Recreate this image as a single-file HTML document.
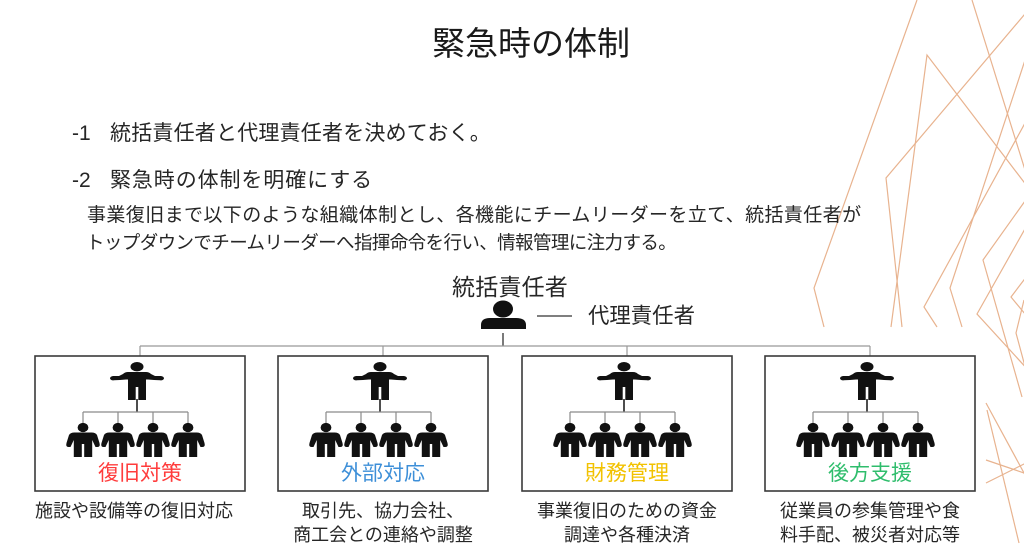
<!DOCTYPE html>
<html lang="ja">
<head>
<meta charset="utf-8">
<style>
  html,body{margin:0;padding:0;background:#fff;}
  body{width:1024px;height:554px;position:relative;overflow:hidden;
       font-family:"Liberation Sans","Noto Sans CJK JP",sans-serif;color:#262626;}
  .t{position:absolute;white-space:nowrap;}
  .c{position:absolute;white-space:nowrap;text-align:center;width:240px;}
  svg{position:absolute;left:0;top:0;}
</style>
</head>
<body>
<svg width="1024" height="554" viewBox="0 0 1024 554">
  <defs>
    <g id="leader">
      <ellipse cx="0" cy="4.7" rx="6.5" ry="4.7" fill="#111"/>
      <path fill="#111" d="M-9,10 L9,10 Q12,10 14,12 L18,14 L24,14 Q27,14.5 27,16.5 Q26,18.8 23,18.3 L17,18 L11,17.5 L9,17.5 L9,38 L1.3,38 L1.3,25 L-1.3,25 L-1.3,38 L-9,38 L-9,17.5 L-11,17.5 L-17,18 L-23,18.3 Q-26,18.8 -27,16.5 Q-27,14.5 -24,14 L-18,14 L-14,12 Q-12,10 -9,10 Z"/>
    </g>
    <g id="member">
      <ellipse cx="0" cy="4.5" rx="5.4" ry="4.6" fill="#111"/>
      <path fill="#111" d="M-8.5,9.5 L8.5,9.5 Q12.5,9.5 14,12 L16.5,20 Q17.5,24 14.5,24 L12.5,24 L9.2,17 L9.2,34 L1.2,34 L1.2,21 L-1.2,21 L-1.2,34 L-9.2,34 L-9.2,17 L-12.5,24 L-14.5,24 Q-17.5,24 -16.5,20 L-14,12 Q-12.5,9.5 -8.5,9.5 Z"/>
    </g>
    <g id="team">
      <rect x="0" y="356" width="210" height="135" fill="#fff" stroke="#3a3a3a" stroke-width="1.6"/>
      <use href="#leader" x="102" y="362"/>
      <line x1="102" y1="399" x2="102" y2="412" stroke="#222" stroke-width="1.6"/>
      <line x1="48" y1="412" x2="153" y2="412" stroke="#8a8a8a" stroke-width="1.2"/>
      <line x1="48" y1="412" x2="48" y2="424" stroke="#8a8a8a" stroke-width="1.2"/>
      <line x1="83" y1="412" x2="83" y2="424" stroke="#8a8a8a" stroke-width="1.2"/>
      <line x1="118" y1="412" x2="118" y2="424" stroke="#8a8a8a" stroke-width="1.2"/>
      <line x1="153" y1="412" x2="153" y2="424" stroke="#8a8a8a" stroke-width="1.2"/>
      <use href="#member" x="48" y="423"/>
      <use href="#member" x="83" y="423"/>
      <use href="#member" x="118" y="423"/>
      <use href="#member" x="153" y="423"/>
    </g>
  </defs>

  <!-- decorative lines -->
  <g fill="none" stroke="#e8b38f" stroke-width="1.2" stroke-linejoin="miter">
    <polyline points="917,0 814,288 824,327"/>
    <polyline points="972,0 1030,186"/>
    <polyline points="1030,8 886,178 902,327"/>
    <polyline points="891,327 927,55 1030,190"/>
    <polyline points="1030,45 950,288 962,327"/>
    <polyline points="1030,114 924,307 937,327"/>
    <polyline points="1030,194 983,260 1022,397"/>
    <polyline points="1030,220 977,314 1030,372"/>
    <polyline points="1030,272 1011,297 1030,320"/>
    <polyline points="1030,385 1016,333 1024,300"/>
    <polyline points="986,403 1030,484"/>
    <polyline points="987,410 1019,543"/>
    <polyline points="986,460 1030,475"/>
    <polyline points="986,483 1030,461"/>
  </g>

  <!-- top person icon -->
  <ellipse cx="503" cy="309" rx="10" ry="8.5" fill="#111"/>
  <path fill="#111" d="M481,329 L481,325 Q481,318 490,318 L516,318 Q526,318 526,325 L526,329 Z"/>
  <line x1="537" y1="316" x2="572" y2="316" stroke="#333" stroke-width="1.3"/>
  <line x1="503" y1="333" x2="503" y2="346" stroke="#333" stroke-width="1.3"/>

  <!-- main connector -->
  <line x1="140" y1="346" x2="870" y2="346" stroke="#999" stroke-width="1.2"/>
  <line x1="140" y1="346" x2="140" y2="356" stroke="#999" stroke-width="1.2"/>
  <line x1="383" y1="346" x2="383" y2="356" stroke="#999" stroke-width="1.2"/>
  <line x1="627" y1="346" x2="627" y2="356" stroke="#999" stroke-width="1.2"/>
  <line x1="870" y1="346" x2="870" y2="356" stroke="#999" stroke-width="1.2"/>

  <use href="#team" x="35" y="0"/>
  <use href="#team" x="278" y="0"/>
  <use href="#team" x="522" y="0"/>
  <use href="#team" x="765" y="0"/>
</svg>

<div class="t" style="left:432px;top:27px;font-size:33px;line-height:33px;color:#1a1a1a;">緊急時の体制</div>

<div class="t" style="left:72px;top:123px;font-size:21px;line-height:21px;">-1</div>
<div class="t" style="left:110px;top:123px;font-size:21px;line-height:21px;letter-spacing:0.2px;">統括責任者と代理責任者を決めておく。</div>

<div class="t" style="left:72px;top:170px;font-size:21px;line-height:21px;">-2</div>
<div class="t" style="left:110px;top:170px;font-size:21px;line-height:21px;letter-spacing:0.9px;">緊急時の体制を明確にする</div>

<div class="t" style="left:87px;top:206px;font-size:19px;line-height:19px;letter-spacing:0.4px;">事業復旧まで以下のような組織体制とし、各機能にチームリーダーを立て、統括責任者が</div>
<div class="t" style="left:86px;top:234px;font-size:18.5px;line-height:18.5px;letter-spacing:-0.6px;">トップダウンでチームリーダーへ指揮命令を行い、情報管理に注力する。</div>

<div class="t" style="left:452px;top:276px;font-size:23px;line-height:23px;letter-spacing:0.2px;">統括責任者</div>
<div class="t" style="left:588px;top:306px;font-size:21.4px;line-height:21.4px;">代理責任者</div>

<!-- box labels -->
<div class="c" style="left:20px;top:463px;font-size:21px;line-height:21px;color:#ff3c3c;">復旧対策</div>
<div class="c" style="left:263px;top:463px;font-size:21px;line-height:21px;color:#3d8fd8;">外部対応</div>
<div class="c" style="left:507px;top:463px;font-size:21px;line-height:21px;color:#f2c200;">財務管理</div>
<div class="c" style="left:750px;top:463px;font-size:21px;line-height:21px;color:#2fbd6c;">後方支援</div>

<!-- descriptions -->
<div class="c" style="left:14px;top:502px;font-size:18px;line-height:18px;">施設や設備等の復旧対応</div>
<div class="c" style="left:263px;top:502px;font-size:18px;line-height:18px;">取引先、協力会社、</div>
<div class="c" style="left:263px;top:526px;font-size:18px;line-height:18px;">商工会との連絡や調整</div>
<div class="c" style="left:507px;top:502px;font-size:18px;line-height:18px;">事業復旧のための資金</div>
<div class="c" style="left:507px;top:526px;font-size:18px;line-height:18px;">調達や各種決済</div>
<div class="c" style="left:750px;top:502px;font-size:18px;line-height:18px;">従業員の参集管理や食</div>
<div class="c" style="left:750px;top:526px;font-size:18px;line-height:18px;">料手配、被災者対応等</div>
</body>
</html>
